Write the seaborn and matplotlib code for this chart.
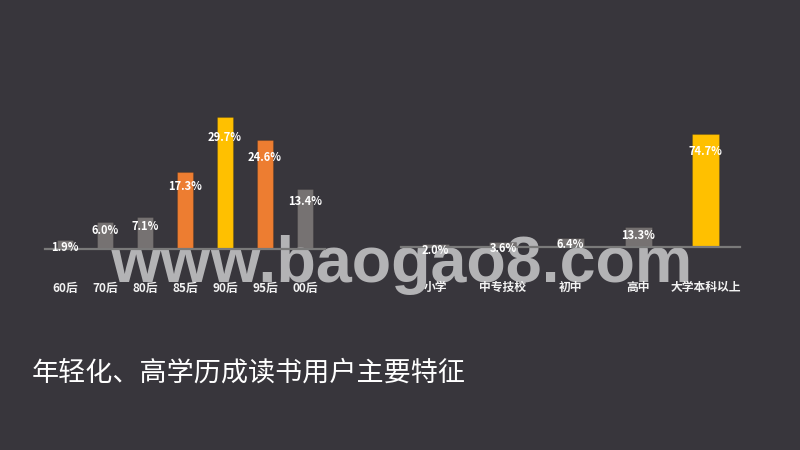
import matplotlib
matplotlib.use("Agg")
import matplotlib.pyplot as plt
import seaborn as sns
import pandas as pd

# ---- data ----
age_groups = ["60后", "70后", "80后", "85后", "90后", "95后", "00后"]
age_values = [1.9, 6.0, 7.1, 17.3, 29.7, 24.6, 13.4]
edu_groups = ["小学", "中专技校", "初中", "高中", "大学本科以上"]
edu_values = [2.0, 3.6, 6.4, 13.3, 74.7]
title_text = "年轻化、高学历成读书用户主要特征"
watermark_text = "www.baogao8.com"

BG = "#38363c"
GRAY = "#767272"
ORANGE = "#ED7D31"
YELLOW = "#FFC000"
age_colors = [GRAY, GRAY, GRAY, ORANGE, YELLOW, ORANGE, GRAY]
edu_colors = [GRAY, GRAY, GRAY, GRAY, YELLOW]

sns.set_theme(style="dark")
plt.rcParams["font.family"] = ["Noto Sans CJK SC", "DejaVu Sans"]

fig = plt.figure(figsize=(8, 4.5), dpi=100)
fig.patch.set_facecolor(BG)

ax1 = fig.add_axes([45 / 800, 201.3 / 450, 280 / 800, 146 / 450])
ax2 = fig.add_axes([401.5 / 800, 202.7 / 450, 338 / 800, 121.4 / 450])


def draw(ax, cats, vals, colors, ymax):
    df = pd.DataFrame({"cat": cats, "val": vals})
    sns.barplot(data=df, x="cat", y="val", hue="cat", palette=colors,
                legend=False, width=0.4, ax=ax, saturation=1,
                edgecolor="#00000022", linewidth=0.8)
    ax.set_facecolor("none")
    ax.set_xlim(-0.5, len(cats) - 0.5)
    ax.set_ylim(0, ymax)
    ax.set_xlabel("")
    ax.set_ylabel("")
    ax.set_yticks([])
    ax.grid(False)
    for s in ["top", "right", "left"]:
        ax.spines[s].set_visible(False)
    ax.spines["bottom"].set_visible(True)
    ax.spines["bottom"].set_color("#7a7a7a")
    ax.spines["bottom"].set_linewidth(1.6)
    ax.tick_params(axis="x", length=0, pad=24, labelsize=8.5, colors="#f2f2f2")
    for lab in ax.get_xticklabels():
        lab.set_fontweight("bold")
    ax.xaxis.set_zorder(5)
    for i, v in enumerate(vals):
        ax.annotate(f"{v:.1f}%", (i, 0.894 * v), xytext=(0, -4.3),
                    textcoords="offset points", ha="center", va="center",
                    fontsize=8, fontweight="bold", color="white", zorder=6)


draw(ax1, age_groups, age_values, age_colors, 33)
draw(ax2, edu_groups, edu_values, edu_colors, 80)

# watermark between bars and labels
ax1.text(110 / 800, (450 - 282) / 450, watermark_text, transform=fig.transFigure,
         fontsize=46.5, color="#b3b3b5", ha="left", va="baseline",
         family="Liberation Sans", fontweight="bold", clip_on=False, zorder=2)

fig.text(32 / 800, (450 - 373) / 450, title_text, fontsize=19.5, color="white",
         ha="left", va="center")

fig.savefig("out.png", dpi=100, facecolor=BG)
